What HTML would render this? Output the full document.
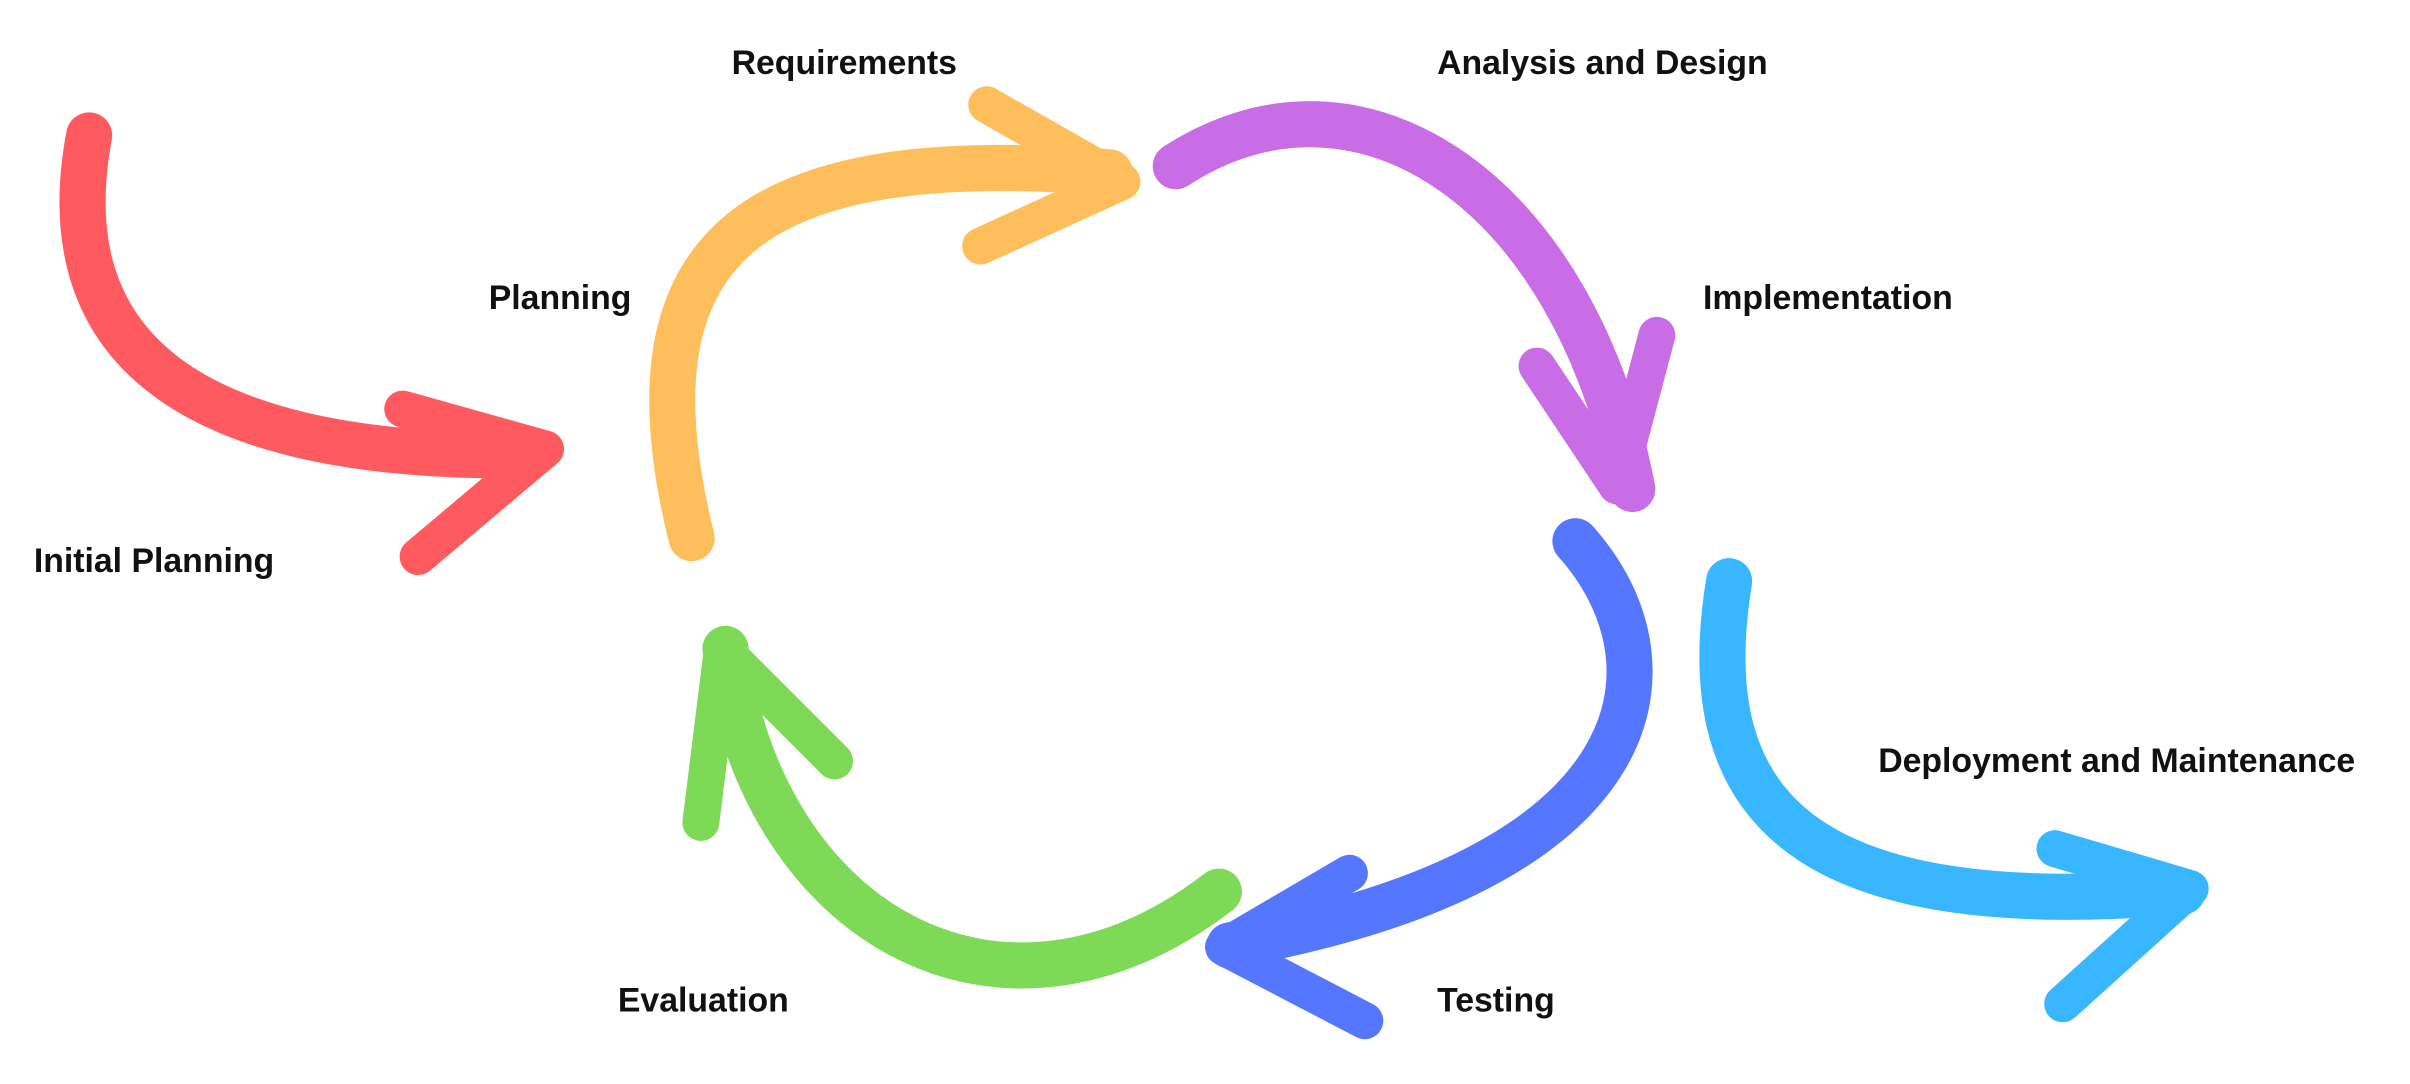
<!DOCTYPE html>
<html><head><meta charset="utf-8"><style>
html,body{margin:0;padding:0;background:#fff;width:2410px;height:1084px;overflow:hidden}
svg{display:block}
text{font-family:"Liberation Sans",sans-serif;font-weight:bold;font-size:22px;fill:#111}
</style></head><body>
<svg width="2410" height="1084" viewBox="0 0 1568 705" xmlns="http://www.w3.org/2000/svg">
<g fill="none" stroke-linecap="round" stroke-linejoin="round">
<g stroke="#FF5A5F"><path d="M58,88 C35,210 100,300 345,296" stroke-width="30"/><path d="M262,266 L355,292 L272,362" stroke-width="24"/></g>
<g stroke="#FFBE5C"><path d="M450,350 C400,150 500,95 722,112" stroke-width="30"/><path d="M642,68 L730,118 L638,160" stroke-width="24"/></g>
<g stroke="#C86DE6"><path d="M765,108 C885,30 1025,125 1062,318" stroke-width="30"/><path d="M1000,238 L1052,316 L1078,218" stroke-width="24"/></g>
<g stroke="#5577FF"><path d="M1025,352 C1095,430 1080,565 800,615" stroke-width="30"/><path d="M878,568 L796,616 L888,664" stroke-width="24"/></g>
<g stroke="#7ED957"><path d="M793,580 C650,690 495,600 472,422" stroke-width="30"/><path d="M456,535 L470,422 L543,495" stroke-width="24"/></g>
<g stroke="#38B6FF"><path d="M1125,378 C1100,530 1180,600 1420,580" stroke-width="30"/><path d="M1337,552 L1425,578 L1342,653" stroke-width="24"/></g>
</g>
<text x="476" y="48">Requirements</text>
<text x="935" y="48">Analysis and Design</text>
<text x="318" y="201">Planning</text>
<text x="1108" y="201">Implementation</text>
<text x="22" y="372">Initial Planning</text>
<text x="1222" y="502">Deployment and Maintenance</text>
<text x="402" y="658">Evaluation</text>
<text x="935" y="658">Testing</text>
</svg>
</body></html>
